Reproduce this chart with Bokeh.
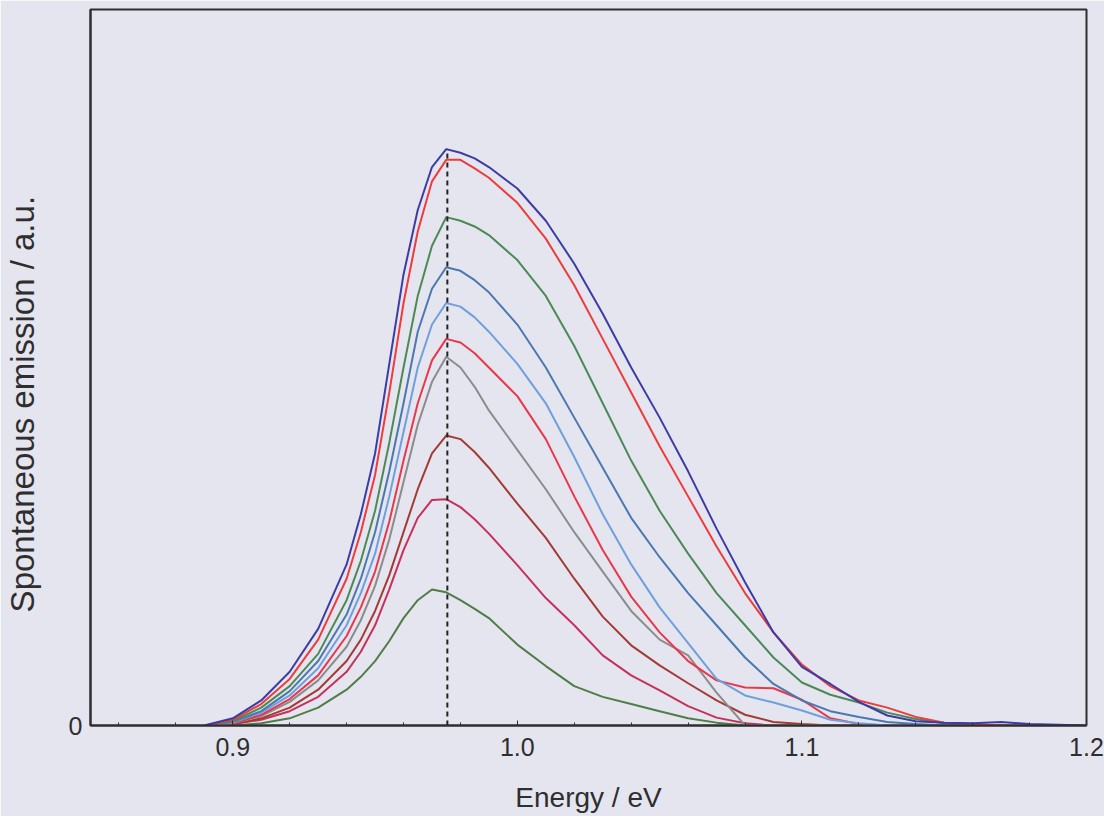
from bokeh.plotting import figure
from bokeh.models import Range1d, FixedTicker, NumeralTickFormatter
from bokeh.embed import file_html
from bokeh.resources import INLINE

# Photon energy grid (eV)
energy = [0.89, 0.90, 0.91, 0.92, 0.93, 0.94, 0.945, 0.95, 0.955, 0.96, 0.965, 0.97, 0.975,
          0.98, 0.985, 0.99, 1.00, 1.01, 1.02, 1.03, 1.04, 1.05, 1.06, 1.07, 1.08, 1.09,
          1.10, 1.11, 1.12, 1.13, 1.14, 1.15, 1.16, 1.17, 1.18, 1.20]

# Spontaneous emission spectra (a.u.), highest to lowest
blue_1 = [0, .01, .035, .075, .135, .225, .295, .38, .505, .63, .72, .78, .805, .80, .792, .78,
          .75, .705, .645, .575, .50, .43, .355, .275, .20, .13, .082, .058, .033, .014, .006,
          .004, .003, .005, .002, 0]
red_1 = [0, .008, .03, .065, .12, .205, .27, .35, .465, .59, .69, .76, .79, .79, .778, .765,
         .73, .68, .615, .54, .465, .39, .32, .25, .185, .13, .085, .055, .035, .025, .012,
         .004, .002, 0, 0, 0]
green_1 = [0, .006, .025, .055, .10, .175, .23, .30, .395, .50, .60, .67, .71, .705, .697, .685,
           .65, .60, .53, .45, .37, .30, .24, .185, .14, .095, .06, .043, .032, .018, .009,
           .003, 0, 0, 0, 0]
steel_blue = [0, .005, .02, .048, .09, .155, .205, .27, .355, .45, .55, .61, .64, .635, .622,
              .605, .56, .50, .43, .36, .29, .235, .185, .14, .095, .058, .035, .02, .012, .005,
              .002, 0, 0, 0, 0, 0]
light_blue = [0, .004, .018, .042, .08, .14, .185, .24, .32, .41, .50, .56, .59, .585, .57,
              .55, .505, .45, .375, .295, .225, .165, .115, .065, .042, .032, .021, .008, .003,
              0, 0, 0, 0, 0, 0, 0]
red_2 = [0, .003, .015, .037, .07, .125, .165, .215, .285, .37, .45, .51, .54, .535, .52, .50,
         .46, .40, .32, .245, .18, .13, .09, .063, .053, .052, .036, .01, .002, 0, 0, 0, 0, 0,
         0, 0]
grey = [0, .003, .013, .033, .063, .11, .147, .195, .26, .34, .42, .48, .515, .50, .473, .44,
        .385, .33, .27, .215, .16, .12, .098, .046, 0, 0, 0, 0, 0, 0, 0, 0, 0, 0, 0, 0]
dark_red = [0, .002, .01, .025, .05, .09, .12, .16, .21, .27, .33, .38, .405, .40, .382, .36,
            .31, .262, .205, .152, .112, .084, .059, .035, .015, .005, .002, 0, 0, 0, 0, 0, 0,
            0, 0, 0]
crimson = [0, .002, .008, .02, .04, .075, .103, .14, .19, .245, .29, .315, .316, .305, .288,
           .268, .224, .178, .14, .098, .07, .049, .027, .011, .003, 0, 0, 0, 0, 0, 0, 0, 0,
           0, 0, 0]
green_2 = [0, 0, .003, .01, .025, .05, .068, .09, .118, .15, .175, .19, .186, .175, .163, .15,
           .113, .083, .055, .04, .03, .02, .01, .004, 0, 0, 0, 0, 0, 0, 0, 0, 0, 0, 0, 0]

series = [green_2, crimson, dark_red, grey, red_2, light_blue, steel_blue, green_1, red_1, blue_1]
colors = ["#4e7d45", "#c8305c", "#a33a34", "#8c8c8c", "#e8384c", "#6f9fdc", "#4a78b0",
          "#4b8a55", "#ee3b3b", "#3c3ca6"]

peak_energy = 0.9754
x_ticks = [0.9, 1.0, 1.1, 1.2]
x_minor = [0.86, 0.88, 0.92, 0.94, 0.96, 0.98, 1.02, 1.04, 1.06, 1.08, 1.12, 1.14, 1.16, 1.18]
y_ticks = [0]

BG = "#e5e5ef"
INK = "#2e2e2e"
FONT = "Liberation Sans"
NBSP = "\u00a0"

p = figure(width=1104, height=816, x_range=Range1d(0.85, 1.2), y_range=Range1d(0, 1),
           output_backend="svg", toolbar_location=None, title=None,
           min_border_left=90, min_border_right=18, min_border_top=9, min_border_bottom=91)
p.background_fill_color = BG
p.border_fill_color = BG
p.outline_line_color = INK
p.outline_line_width = 2
p.xgrid.visible = False
p.ygrid.visible = False

xa = p.xaxis[0]
xa.ticker = FixedTicker(ticks=x_ticks, minor_ticks=x_minor)
xa.formatter = NumeralTickFormatter(format="0.0")
xa.major_tick_in = 5
xa.major_tick_out = 0
xa.minor_tick_in = 3
xa.minor_tick_out = 0
xa.major_tick_line_color = INK
xa.minor_tick_line_color = INK
xa.axis_line_color = INK
xa.axis_line_width = 2
xa.major_label_text_font = FONT
xa.major_label_text_font_size = "25px"
xa.major_label_text_color = INK
xa.major_label_standoff = 12
xa.axis_label = "Energy / eV"
xa.axis_label_text_font = FONT
xa.axis_label_text_font_size = "28px"
xa.axis_label_text_font_style = "normal"
xa.axis_label_text_color = INK
xa.axis_label_standoff = 23

ya = p.yaxis[0]
ya.ticker = FixedTicker(ticks=y_ticks)
ya.major_tick_in = 0
ya.major_tick_out = 0
ya.minor_tick_in = 0
ya.minor_tick_out = 0
ya.axis_line_color = INK
ya.axis_line_width = 2
ya.major_label_text_font = FONT
ya.major_label_text_font_size = "25px"
ya.major_label_text_color = INK
ya.major_label_standoff = 8
ya.axis_label = "Spontaneous emission / a.u." + NBSP * 8
ya.axis_label_text_font = FONT
ya.axis_label_text_font_size = "33px"
ya.axis_label_text_font_style = "normal"
ya.axis_label_text_color = INK
ya.axis_label_standoff = 25

for ys, c in zip(series, colors):
    p.line(energy, ys, line_color=c, line_width=2)

p.line([peak_energy, peak_energy], [0, max(blue_1)], line_color="#222222",
       line_width=2, line_dash="5 4")

open("out.html", "w").write(file_html(p, INLINE))
